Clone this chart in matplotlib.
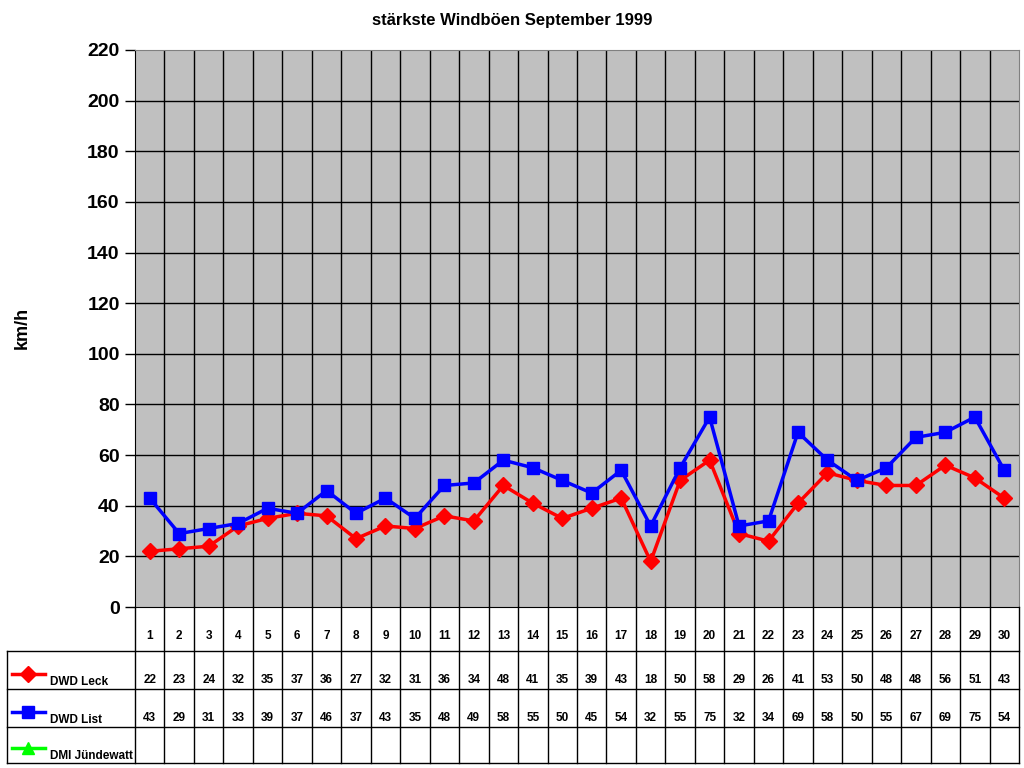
import numpy as np
import matplotlib.pyplot as plt
from matplotlib.lines import Line2D

plt.rcParams["font.family"] = ["Liberation Sans", "DejaVu Sans"]
plt.rcParams["font.weight"] = "bold"

tage = list(range(1, 31))
leck = [22, 23, 24, 32, 35, 37, 36, 27, 32, 31, 36, 34, 48, 41, 35,
        39, 43, 18, 50, 58, 29, 26, 41, 53, 50, 48, 48, 56, 51, 43]
liste = [43, 29, 31, 33, 39, 37, 46, 37, 43, 35, 48, 49, 58, 55, 50,
         45, 54, 32, 55, 75, 32, 34, 69, 58, 50, 55, 67, 69, 75, 54]
juendewatt = [None] * 30

serien = [
    ("DWD Leck", leck, "#FF0000", "D", 8),
    ("DWD List", liste, "#0000FF", "s", 9),
    ("DMI Jündewatt", juendewatt, "#00FF00", "^", 9),
]

W, H = 1024, 768
fig = plt.figure(figsize=(W / 100, H / 100), dpi=100)

# Diagrammfläche in Pixeln
x0, x1, y_top, y_bot = 135, 1019, 50, 607
ax = fig.add_axes([x0 / W, 1 - y_bot / H, (x1 - x0) / W, (y_bot - y_top) / H])
ax.set_facecolor("#C0C0C0")
ax.set_xlim(0.5, 30.5)
ax.set_ylim(0, 220)
ax.set_yticks(range(0, 221, 20))
ax.set_xticks([])
for d in np.arange(1.5, 30.5, 1):
    ax.axvline(d, color="black", lw=1, zorder=1)
for v in range(20, 220, 20):
    ax.axhline(v, color="black", lw=1, zorder=1)
for s in ["top", "right"]:
    ax.spines[s].set_color("#808080")
ax.spines["left"].set_color("black")
ax.spines["bottom"].set_color("black")
ax.tick_params(axis="y", direction="out", length=7, width=1, labelsize=14, pad=4)
for lab in ax.get_yticklabels():
    lab.set_fontweight("bold")

for name, werte, farbe, mk, ms in serien:
    y = np.array([np.nan if w is None else w for w in werte], dtype=float)
    ax.plot(tage, y, color=farbe, lw=2.5, marker=mk, ms=ms, zorder=3, clip_on=False)

fig.text(0.5, 1 - 20 / H, "stärkste Windböen September 1999", ha="center", va="center",
         fontsize=12, fontweight="bold")
fig.text(22 / W, 1 - 328 / H, "km/h", rotation=90, ha="center", va="center",
         fontsize=13, fontweight="bold")

# Datentabelle
t_bot = 763
tab = fig.add_axes([x0 / W, 1 - t_bot / H, (x1 - x0) / W, (t_bot - y_bot) / H])
tab.set_xlim(0.5, 30.5)
tab.set_ylim(t_bot, y_bot)
tab.axis("off")
px = (x1 - x0) / 30.0
x_links = 0.5 - (x0 - 7) / px
zeilen = [607, 651, 689, 727, 763]

for d in np.arange(0.5, 31, 1):
    tab.plot([d, d], [y_bot, t_bot], color="black", lw=1, clip_on=False)
for yy in zeilen[1:]:
    tab.plot([x_links, 30.5], [yy, yy], color="black", lw=1, clip_on=False)
tab.plot([x_links, x_links], [zeilen[1], t_bot], color="black", lw=1, clip_on=False)

for t in tage:
    tab.text(t, 636, str(t), ha="center", va="center", fontsize=8.5, fontweight="bold")
for i, (name, werte, farbe, mk, ms) in enumerate(serien):
    y_unten = zeilen[i + 2]
    for t, w in zip(tage, werte):
        if w is not None:
            tab.text(t, y_unten - 9, str(w), ha="center", va="center",
                     fontsize=8.5, fontweight="bold")
    ly = y_unten - 15
    lx0 = 0.5 - (x0 - 12) / px
    lx1 = 0.5 - (x0 - 45) / px
    tab.add_line(Line2D([lx0, lx1], [ly, ly], color=farbe, lw=2.5, clip_on=False))
    tab.plot([(lx0 + lx1) / 2], [ly], color=farbe, marker=mk, ms=ms, clip_on=False)
    tab.text(0.5 - (x0 - 50) / px, y_unten - 7, name, ha="left", va="center",
             fontsize=8.5, fontweight="bold")

fig.savefig("out.png", dpi=100)
